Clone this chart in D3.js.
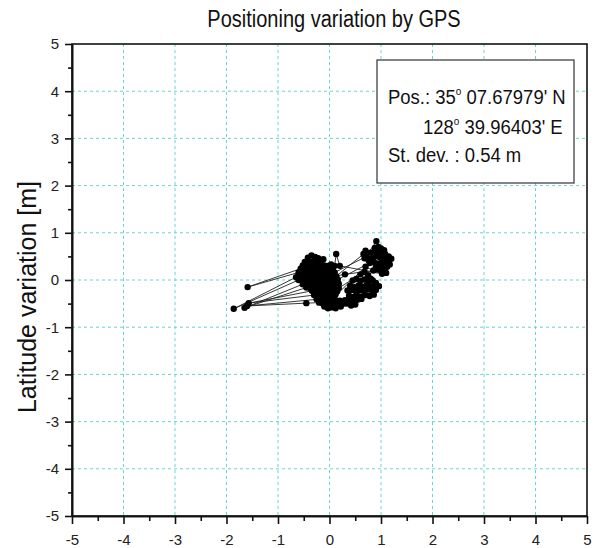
<!DOCTYPE html>
<html lang="en">
<head>
    <meta charset="UTF-8">
    <title>Positioning variation by GPS</title>
    <script src="https://d3js.org/d3.v7.min.js"></script>
    <style>
        body { margin: 0; background: #fff; }
        text { font-family: "Liberation Sans", Arial, sans-serif; }
    </style>
</head>
<body>
    <div id="chart"></div>

    <script>
        // chart texts and ticks
        const titleText = "Positioning variation by GPS";
        const yLabelText = "Latitude variation  [m]";
        const xTicks = [-5, -4, -3, -2, -1, 0, 1, 2, 3, 4, 5];
        const yTicks = [-5, -4, -3, -2, -1, 0, 1, 2, 3, 4, 5];
        const minorTicks = [-4.5, -3.5, -2.5, -1.5, -0.5, 0.5, 1.5, 2.5, 3.5, 4.5];

        // legend lines: [before degree sign, after degree sign]
        const legendLines = [
            ["Pos.: 35", " 07.67979' N"],
            ["128", " 39.96403' E"],
            ["St. dev. : 0.54 m", ""]
        ];

        // GPS track, [lon variation, lat variation] in m, in time order
        const gpsTrack = [
            [-0.42,0.47],[-0.35,0.52],[-0.28,0.49],[-0.22,0.46],[-0.12,0.44],
            [-0.2,0.4],[-0.27,0.41],[-0.34,0.39],[-0.41,0.41],[-0.48,0.38],
            [-0.52,0.31],[-0.45,0.33],[-0.38,0.3],[-0.31,0.33],[-0.24,0.31],[-0.17,0.34],[-0.1,0.31],[-0.03,0.3],[0.03,0.33],
            [0.06,0.24],[-0.01,0.25],[-0.08,0.22],[-0.15,0.25],[-0.22,0.23],[-0.29,0.26],[-0.36,0.23],[-0.43,0.25],[-0.5,0.22],[-0.56,0.24],
            [-1.59,-0.15],
            [-0.6,0.16],[-0.53,0.15],[-0.46,0.17],[-0.39,0.14],[-0.32,0.17],[-0.25,0.15],[-0.18,0.18],[-0.11,0.15],[-0.04,0.17],[0.03,0.14],[0.1,0.16],
            [0.72,0.5],[0.8,0.58],[0.88,0.62],[0.95,0.58],[1.02,0.6],[1.08,0.55],[1.15,0.5],[1.2,0.45],[1.13,0.42],[1.05,0.45],
            [0.98,0.48],[0.9,0.5],[0.82,0.46],[0.76,0.42],[0.68,0.46],[0.91,0.82],[0.95,0.7],[0.88,0.68],[1.0,0.67],[1.06,0.63],
            [0.7,0.62],[0.66,0.55],
            [0.13,0.08],[0.06,0.07],[-0.01,0.09],[-0.08,0.06],[-0.15,0.09],[-0.22,0.07],[-0.29,0.1],[-0.36,0.06],[-0.43,0.09],[-0.5,0.07],[-0.57,0.1],[-0.65,0.06],
            [-1.86,-0.61],
            [-0.6,0.0],[-0.53,0.02],[-0.46,-0.01],[-0.39,0.01],[-0.32,-0.02],[-0.25,0.01],[-0.18,-0.01],[-0.11,0.02],[-0.04,-0.01],[0.03,0.01],[0.1,-0.02],[0.16,0.01],
            [0.78,0.36],[0.86,0.38],[0.94,0.35],[1.02,0.38],[1.1,0.36],[1.17,0.33],[1.12,0.28],[1.04,0.3],[0.96,0.27],[0.9,0.3],
            [0.93,0.22],[1.0,0.2],[1.07,0.22],[1.1,0.15],[1.02,0.13],
            [0.2,0.3],[0.13,0.55],[0.1,0.3],
            [0.18,-0.08],[0.11,-0.07],[0.04,-0.09],[-0.03,-0.06],[-0.1,-0.09],[-0.17,-0.07],[-0.24,-0.1],[-0.31,-0.07],[-0.38,-0.09],[-0.45,-0.06],[-0.52,-0.09],
            [-1.65,-0.59],
            [-0.45,-0.16],[-0.38,-0.17],[-0.31,-0.15],[-0.24,-0.18],[-0.17,-0.15],[-0.1,-0.17],[-0.03,-0.16],[0.04,-0.18],[0.11,-0.15],[0.18,-0.17],
            [0.6,0.12],[0.68,0.17],[0.75,0.1],[0.8,0.03],
            [0.45,-0.01],[0.52,0.02],[0.6,-0.02],[0.68,0.01],[0.76,-0.03],[0.84,-0.01],[0.9,-0.06],[0.96,-0.13],[0.87,-0.12],[0.8,-0.14],
            [0.72,-0.11],[0.64,-0.14],[0.56,-0.12],[0.48,-0.15],[0.4,-0.12],[0.35,-0.22],[0.43,-0.21],[0.51,-0.24],[0.59,-0.21],[0.67,-0.23],
            [0.75,-0.2],[0.83,-0.23],[0.9,-0.21],[0.86,-0.31],[0.78,-0.34],[0.7,-0.32],[0.62,-0.35],[0.54,-0.33],[0.46,-0.36],[0.38,-0.33],
            [0.3,-0.43],[0.38,-0.42],[0.46,-0.45],[0.54,-0.42],[0.62,-0.4],[0.5,-0.52],[0.42,-0.54],[0.34,-0.5],
            [0.28,-0.5],[0.22,-0.56],[0.15,-0.5],[0.2,-0.44],[0.12,-0.6],
            [0.15,-0.24],[0.08,-0.22],[0.01,-0.25],[-0.06,-0.23],[-0.13,-0.26],[-0.2,-0.24],[-0.27,-0.25],[-0.34,-0.23],
            [-1.57,-0.49],
            [-0.3,-0.32],[-0.23,-0.31],[-0.16,-0.33],[-0.09,-0.31],[-0.02,-0.34],[0.05,-0.32],[0.12,-0.3],
            [0.1,-0.4],[0.03,-0.41],[-0.04,-0.39],[-0.11,-0.42],[-0.18,-0.4],[-0.25,-0.41],
            [-1.6,-0.55],[-0.45,-0.49],
            [-0.2,-0.48],[-0.13,-0.5],[-0.06,-0.47],[0.01,-0.49],[0.08,-0.47],[0.04,-0.58],[-0.03,-0.6],[-0.1,-0.56],
            [0.7,0.28],[0.85,0.2],[0.3,0.12],[-0.2,0.02]
        ];

        // svg and plot area ----------------------------------------------
        const svg = d3.select("div#chart").append("svg")
            .attr("width", 601)
            .attr("height", 548);
        const margin = {top: 44, bottom: 32, left: 72, right: 14};
        const corner = {top: margin.top, bottom: 548 - margin.bottom,
            left: margin.left, right: 601 - margin.right};

        const xScale = d3.scaleLinear().domain([-5, 5]).range([corner.left, corner.right]);
        const yScale = d3.scaleLinear().domain([-5, 5]).range([corner.bottom, corner.top]);

        // dashed grid lines at the inner integer ticks
        const gridColor = "#6cd3d3";
        xTicks.slice(1, -1).forEach(v => {
            svg.append("line")
                .attr("x1", xScale(v)).attr("x2", xScale(v))
                .attr("y1", corner.top).attr("y2", corner.bottom)
                .attr("stroke", gridColor)
                .attr("stroke-width", 1)
                .attr("stroke-dasharray", "3,3");
        });
        yTicks.slice(1, -1).forEach(v => {
            svg.append("line")
                .attr("x1", corner.left).attr("x2", corner.right)
                .attr("y1", yScale(v)).attr("y2", yScale(v))
                .attr("stroke", gridColor)
                .attr("stroke-width", 1)
                .attr("stroke-dasharray", "3,3");
        });

        // track: lines in time order, then the dots
        const trackLine = d3.line()
            .x(d => xScale(d[0]))
            .y(d => yScale(d[1]));
        svg.append("path")
            .datum(gpsTrack)
            .attr("d", trackLine)
            .attr("fill", "none")
            .attr("stroke", "#222")
            .attr("stroke-width", 0.9);

        svg.append("g").selectAll("circle")
            .data(gpsTrack)
            .join("circle")
            .attr("cx", d => xScale(d[0]))
            .attr("cy", d => yScale(d[1]))
            .attr("r", 3.2)
            .attr("fill", "#000");

        // frame (top and right)
        svg.append("rect")
            .attr("x", corner.left).attr("y", corner.top)
            .attr("width", corner.right - corner.left)
            .attr("height", corner.bottom - corner.top)
            .attr("fill", "none")
            .attr("stroke", "#111")
            .attr("stroke-width", 1.6);

        // axes with major and minor ticks (plain hyphen minus in labels)
        const plainFormat = d => d.toString();
        svg.append("g")
            .attr("transform", `translate(0,${corner.bottom})`)
            .call(d3.axisBottom(xScale).tickValues(xTicks).tickFormat(plainFormat)
                .tickSize(8).tickSizeOuter(0).tickPadding(10));
        svg.append("g")
            .attr("transform", `translate(0,${corner.bottom})`)
            .call(d3.axisBottom(xScale).tickValues(minorTicks).tickSize(5).tickSizeOuter(0).tickFormat(""));
        svg.append("g")
            .attr("transform", `translate(${corner.left},0)`)
            .call(d3.axisLeft(yScale).tickValues(yTicks).tickFormat(plainFormat)
                .tickSize(7).tickSizeOuter(0).tickPadding(6));
        svg.append("g")
            .attr("transform", `translate(${corner.left},0)`)
            .call(d3.axisLeft(yScale).tickValues(minorTicks).tickSize(4).tickSizeOuter(0).tickFormat(""));

        svg.selectAll(".domain").attr("stroke", "#111").attr("stroke-width", 1.6);
        svg.selectAll(".tick line").attr("stroke", "#111").attr("stroke-width", 1.6);
        svg.selectAll(".tick text")
            .attr("font-family", "Liberation Sans, Arial, sans-serif")
            .attr("font-size", 15)
            .attr("fill", "#222");

        // title and y label
        svg.append("text")
            .attr("transform", "translate(334,27) scale(1,1.15)")
            .attr("text-anchor", "middle")
            .attr("font-size", 20)
            .attr("fill", "#111")
            .text(titleText);

        svg.append("text")
            .attr("transform", "translate(36,297) rotate(-90)")
            .attr("text-anchor", "middle")
            .attr("font-size", 25)
            .attr("fill", "#111")
            .text(yLabelText);

        // legend box
        svg.append("rect")
            .attr("x", 377).attr("y", 60)
            .attr("width", 197).attr("height", 123)
            .attr("fill", "#fff")
            .attr("stroke", "#333")
            .attr("stroke-width", 1.2);

        const legendX = [388, 423, 388];
        const legendY = [104, 134, 162];
        legendLines.forEach((parts, i) => {
            const t = svg.append("text")
                .attr("transform", `translate(${legendX[i]},${legendY[i]}) scale(1,1.1)`)
                .attr("font-size", 18.5)
                .attr("fill", "#111");
            t.append("tspan").text(parts[0]);
            if (parts[1] !== "") {
                t.append("tspan").attr("dy", -8).attr("font-size", 10).text("o");
                t.append("tspan").attr("dy", 8).text(parts[1]);
            }
        });
    </script>
</body>
</html>
